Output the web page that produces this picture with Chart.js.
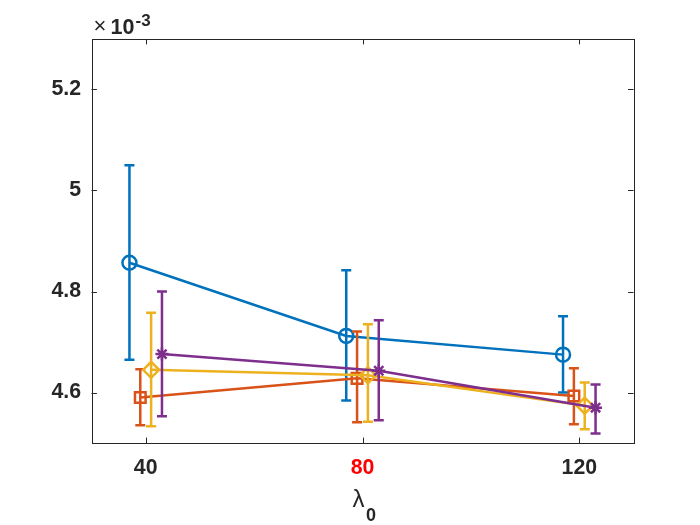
<!DOCTYPE html>
<html>
<head>
<meta charset="utf-8">
<script src="https://cdn.jsdelivr.net/npm/chart.js@4.4.1/dist/chart.umd.min.js"></script>
<style>
  html, body { margin: 0; padding: 0; background: #fff; }
  #wrap { width: 700px; height: 525px; }
</style>
</head>
<body>
<div id="wrap"><canvas id="chart" width="700" height="525"></canvas></div>
<script>
// values in units of 1e-3 (axis shows x10^-3)
const lambdaValues = [40, 80, 120];
const xTicks = [40, 80, 120];
const yTicks = [4.6, 4.8, 5.0, 5.2];

const blueMean = [4.857, 4.712, 4.675];
const blueLow = [4.665, 4.584, 4.600];
const blueHigh = [5.050, 4.842, 4.751];

const orangeMean = [4.590, 4.628, 4.593];
const orangeLow = [4.535, 4.541, 4.537];
const orangeHigh = [4.646, 4.721, 4.648];

const yellowMean = [4.645, 4.634, 4.574];
const yellowLow = [4.533, 4.542, 4.527];
const yellowHigh = [4.758, 4.735, 4.620];

const purpleMean = [4.676, 4.643, 4.570];
const purpleLow = [4.553, 4.545, 4.519];
const purpleHigh = [4.800, 4.743, 4.616];

// small horizontal shift of each series so the error bars don't overlap
const shifts = [-3, -1, 1, 3];

const axisColor = '#262626';
const font = '"Liberation Sans", Arial, sans-serif';

function makeSet(mean, low, high, shift, color, style, radius, order) {
    return {
        data: mean.map((v, i) => ({ x: lambdaValues[i] + shift, y: v })),
        low: low,
        high: high,
        borderColor: color,
        backgroundColor: 'rgba(0,0,0,0)',
        borderWidth: 2.5,
        pointStyle: style,
        pointRadius: radius,
        pointBorderWidth: 2.5,
        pointBorderColor: color,
        pointBackgroundColor: 'rgba(0,0,0,0)',
        tension: 0,
        order: order
    };
}

// error bars, drawn right after their own dataset
const errorBars = {
    id: 'errorBars',
    afterDatasetDraw(chart, args) {
        const ds = chart.data.datasets[args.index];
        const xs = chart.scales.x, ys = chart.scales.y;
        const ctx = chart.ctx;
        ctx.save();
        ctx.strokeStyle = ds.borderColor;
        ctx.lineWidth = 2.5;
        ds.data.forEach((p, i) => {
            const px = xs.getPixelForValue(p.x);
            const top = ys.getPixelForValue(ds.high[i]);
            const bot = ys.getPixelForValue(ds.low[i]);
            ctx.beginPath();
            ctx.moveTo(px, top); ctx.lineTo(px, bot);
            ctx.moveTo(px - 5, top); ctx.lineTo(px + 5, top);
            ctx.moveTo(px - 5, bot); ctx.lineTo(px + 5, bot);
            ctx.stroke();
        });
        ctx.restore();
    }
};

// matlab-like box with inward ticks, exponent and x label
const boxAxes = {
    id: 'boxAxes',
    beforeDatasetsDraw(chart) {
        const { ctx, chartArea: a } = chart;
        const xs = chart.scales.x, ys = chart.scales.y;
        ctx.save();
        ctx.strokeStyle = axisColor;
        ctx.lineWidth = 1;
        ctx.strokeRect(Math.round(a.left) + 0.5, Math.round(a.top) + 0.5,
            Math.round(a.right - a.left), Math.round(a.bottom - a.top));
        ctx.beginPath();
        const tl = 5.4;
        xTicks.forEach(v => {
            const px = Math.round(xs.getPixelForValue(v)) + 0.5;
            ctx.moveTo(px, a.bottom); ctx.lineTo(px, a.bottom - tl);
            ctx.moveTo(px, a.top); ctx.lineTo(px, a.top + tl);
        });
        yTicks.forEach(v => {
            const py = Math.round(ys.getPixelForValue(v)) + 0.5;
            ctx.moveTo(a.left, py); ctx.lineTo(a.left + tl, py);
            ctx.moveTo(a.right, py); ctx.lineTo(a.right - tl, py);
        });
        ctx.stroke();

        // x10^-3
        ctx.fillStyle = axisColor;
        ctx.textBaseline = 'alphabetic';
        ctx.textAlign = 'left';
        ctx.font = '22px ' + font;
        ctx.fillText('\u00d7', a.left + 2, 33);
        ctx.font = 'bold 21.5px ' + font;
        ctx.fillText('10', a.left + 19, 33.5);
        ctx.font = 'bold 17px ' + font;
        ctx.fillText('-3', a.left + 44, 25.5);

        // lambda_0
        const cx = (a.left + a.right) / 2;
        ctx.font = '24px ' + font;
        ctx.fillText('\u03bb', cx - 10, 507);
        ctx.font = 'bold 18px ' + font;
        ctx.fillText('0', cx + 3.5, 520.5);
        ctx.restore();
    }
};

new Chart(document.getElementById('chart'), {
    type: 'line',
    data: {
        datasets: [
            makeSet(blueMean, blueLow, blueHigh, shifts[0], '#0072BD', 'circle', 7, 3),
            makeSet(orangeMean, orangeLow, orangeHigh, shifts[1], '#D95319', 'rect', 7.5, 2),
            makeSet(yellowMean, yellowLow, yellowHigh, shifts[2], '#EDB120', 'rectRot', 8, 1),
            makeSet(purpleMean, purpleLow, purpleHigh, shifts[3], '#7E2F8E', 'star', 6.5, 0)
        ]
    },
    options: {
        responsive: false,
        animation: false,
        devicePixelRatio: 1,
        layout: { padding: { left: 0, right: 66.5, top: 39, bottom: 0 } },
        plugins: { legend: { display: false }, tooltip: { enabled: false } },
        scales: {
            x: {
                type: 'linear',
                min: 30,
                max: 130,
                afterBuildTicks: s => { s.ticks = xTicks.map(v => ({ value: v })); },
                afterFit: s => { s.height = 82; },
                grid: { display: true, drawOnChartArea: false, drawTicks: false },
                border: { display: false },
                ticks: {
                    padding: 12,
                    maxRotation: 0,
                    font: { family: font, size: 21.3, weight: 'bold' },
                    color: c => (c.tick && c.tick.value === 80) ? '#FF0000' : axisColor
                }
            },
            y: {
                min: 4.5,
                max: 5.3,
                afterBuildTicks: s => { s.ticks = yTicks.map(v => ({ value: v })); },
                afterFit: s => { s.width = 91.5; },
                grid: { display: true, drawOnChartArea: false, drawTicks: false },
                border: { display: false },
                ticks: {
                    padding: 10.5,
                    font: { family: font, size: 21.3, weight: 'bold' },
                    color: axisColor,
                    callback: v => String(Number(v.toFixed(1)))
                }
            }
        }
    },
    plugins: [errorBars, boxAxes]
});
</script>
</body>
</html>
